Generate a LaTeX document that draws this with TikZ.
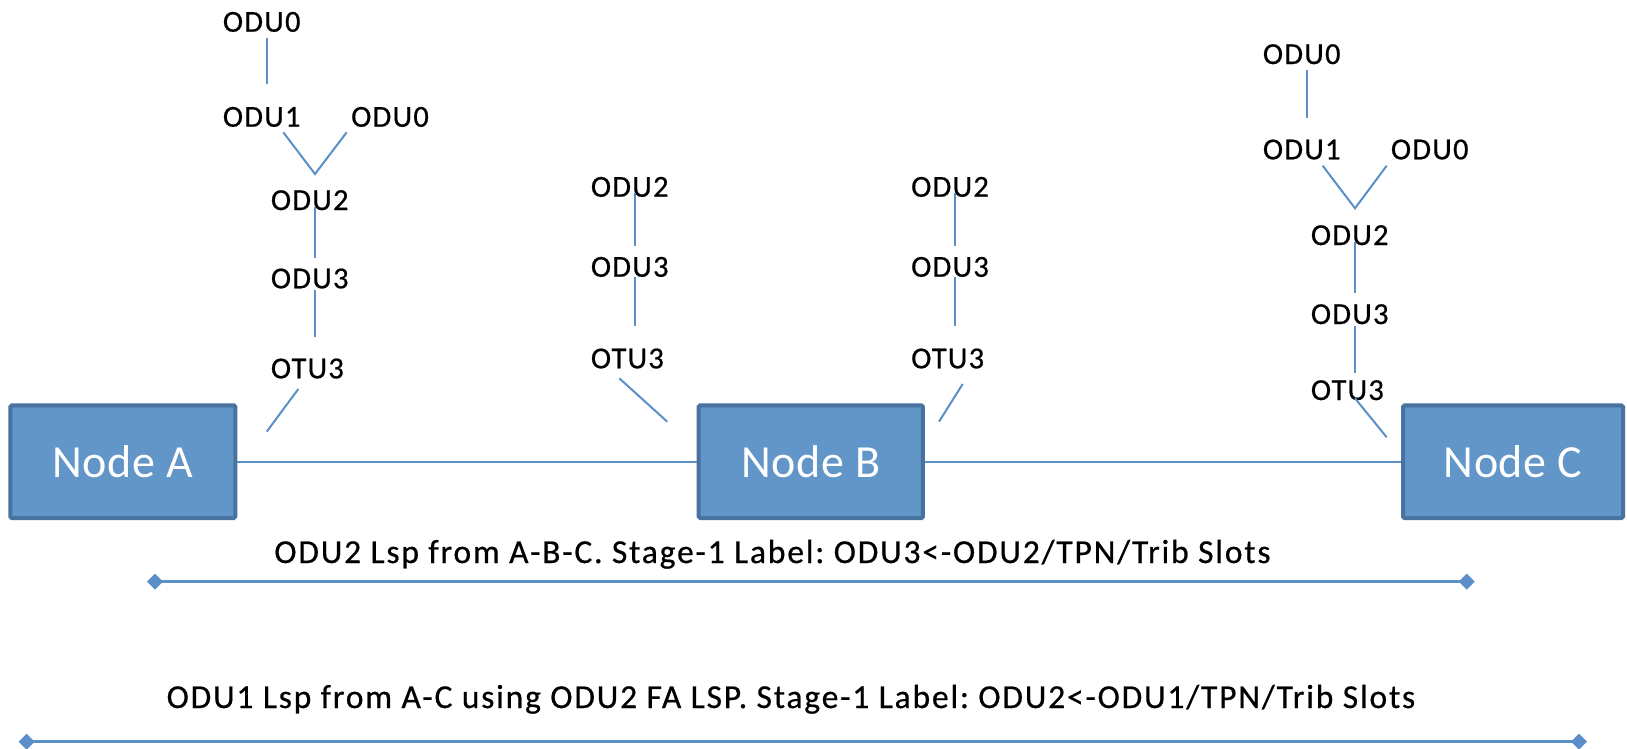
\documentclass[tikz,border=0pt]{standalone}
\usepackage{fontspec}
\setmainfont{Carlito}
\newfontfamily\lblfont{Carlito}[LetterSpace=4,FakeBold=0.6]
\newfontfamily\lspfont{Carlito}[LetterSpace=5.5,FakeBold=0.6]
\newfontfamily\nodefont{Carlito}[LetterSpace=1.5]
\frenchspacing
\usetikzlibrary{arrows.meta}
\definecolor{boxfill}{RGB}{98,149,200}
\definecolor{boxedge}{RGB}{72,114,160}
\definecolor{linkblue}{RGB}{91,143,201}
\tikzset{
  lbl/.style={anchor=base west, inner sep=0pt, font=\lblfont\fontsize{30.5}{36}\selectfont},
  netnode/.style={draw=boxedge, fill=boxfill, line width=4pt, text=white,
    font=\nodefont\fontsize{46}{54}\selectfont, minimum height=112.7pt, inner sep=0pt, rounded corners=1.5pt},
  conn/.style={draw=linkblue, line width=2pt},
  lsptext/.style={anchor=base, inner sep=0pt, font=\lspfont\fontsize{33.5}{40}\selectfont},
  lsp/.style={draw=linkblue, line width=3pt,
    {Diamond[length=16pt,width=16pt]}-{Diamond[length=16pt,width=16pt]}}
}
\begin{document}
\begin{tikzpicture}[x=1pt,y=-1pt]
\useasboundingbox (0,0) rectangle (1627,748);
% network nodes
\node[netnode, minimum width=225pt] (A) at (122.8,461.7) {Node A};
\node[netnode, minimum width=224.3pt] (B) at (810.8,461.7) {Node B};
\node[netnode, minimum width=220pt] (C) at (1513,461.7) {Node C};
\draw[conn] (A) -- (B);
\draw[conn] (B) -- (C);

% stack at node A
\node[lbl] (a0) at (222.7,31.7) {ODU0};
\node[lbl] (a1) at (222.7,126.7) {ODU1};
\node[lbl] (a0b) at (351,126.7) {ODU0};
\node[lbl] (a2) at (270.7,210) {ODU2};
\node[lbl] (a3) at (270.7,288.3) {ODU3};
\node[lbl] (at3) at (270.7,378.3) {OTU3};
\coordinate (a0s) at (266.7,37.7);  \coordinate (a0e) at (266.7,84.3);
\coordinate (a1v) at (283.3,132.3); \coordinate (a2v) at (315,174); \coordinate (a0bv) at (346.7,132.3);
\coordinate (a2s) at (315,206.7);   \coordinate (a2e) at (315,257.7);
\coordinate (a3s) at (315,290);     \coordinate (a3e) at (315,336.7);
\coordinate (ats) at (298.3,389);   \coordinate (ate) at (266.7,431.7);
\draw[conn] (a0s) -- (a0e);
\draw[conn] (a1v) -- (a2v) -- (a0bv);
\draw[conn] (a2s) -- (a2e);
\draw[conn] (a3s) -- (a3e);
\draw[conn] (ats) -- (ate);

% node B left stack
\node[lbl] (bl2) at (590.7,196.7) {ODU2};
\node[lbl] (bl3) at (590.7,276.7) {ODU3};
\node[lbl] (blt) at (590.7,368.3) {OTU3};
\coordinate (bl2s) at (635,193.3); \coordinate (bl2e) at (635,245.7);
\coordinate (bl3s) at (635,277.3); \coordinate (bl3e) at (635,325.7);
\coordinate (blts) at (619.3,378.3); \coordinate (blte) at (667.3,421.7);
\draw[conn] (bl2s) -- (bl2e);
\draw[conn] (bl3s) -- (bl3e);
\draw[conn] (blts) -- (blte);

% node B right stack
\node[lbl] (br2) at (911,196.7) {ODU2};
\node[lbl] (br3) at (911,276.7) {ODU3};
\node[lbl] (brt) at (911,368.3) {OTU3};
\coordinate (br2s) at (955,193.3); \coordinate (br2e) at (955,245.7);
\coordinate (br3s) at (955,277.3); \coordinate (br3e) at (955,325.7);
\coordinate (brts) at (962.7,384); \coordinate (brte) at (939,421.7);
\draw[conn] (br2s) -- (br2e);
\draw[conn] (br3s) -- (br3e);
\draw[conn] (brts) -- (brte);

% stack at node C
\node[lbl] (c0) at (1262.7,64) {ODU0};
\node[lbl] (c1) at (1262.7,159.3) {ODU1};
\node[lbl] (c0b) at (1390.7,159.3) {ODU0};
\node[lbl] (c2) at (1310.7,245) {ODU2};
\node[lbl] (c3) at (1310.7,324) {ODU3};
\node[lbl] (ct3) at (1310.7,400) {OTU3};
\coordinate (c0s) at (1306.7,70);   \coordinate (c0e) at (1306.7,117.7);
\coordinate (c1v) at (1322.7,165.7); \coordinate (c2v) at (1355,208.3); \coordinate (c0bv) at (1386.7,165.7);
\coordinate (c2s) at (1355,241.7);  \coordinate (c2e) at (1355,293.3);
\coordinate (c3s) at (1355,326);    \coordinate (c3e) at (1355,373.3);
\coordinate (cts) at (1355,398.3);  \coordinate (cte) at (1386.7,437.3);
\draw[conn] (c0s) -- (c0e);
\draw[conn] (c1v) -- (c2v) -- (c0bv);
\draw[conn] (c2s) -- (c2e);
\draw[conn] (c3s) -- (c3e);
\draw[conn] (cts) -- (cte);

% LSPs
\node[lsptext] (t1) at (772.5,563) {ODU2 Lsp from A-B-C. Stage-1 Label: ODU3<-ODU2/TPN/Trib Slots};
\coordinate (l1s) at (147,581.7); \coordinate (l1e) at (1474.7,581.7);
\draw[lsp] (l1s) -- (l1e);
\node[lsptext] (t2) at (791,708) {ODU1 Lsp from A-C using ODU2 FA LSP. Stage-1 Label: ODU2<-ODU1/TPN/Trib Slots};
\coordinate (l2s) at (18.7,741.7); \coordinate (l2e) at (1587,741.7);
\draw[lsp] (l2s) -- (l2e);
\end{tikzpicture}
\end{document}
